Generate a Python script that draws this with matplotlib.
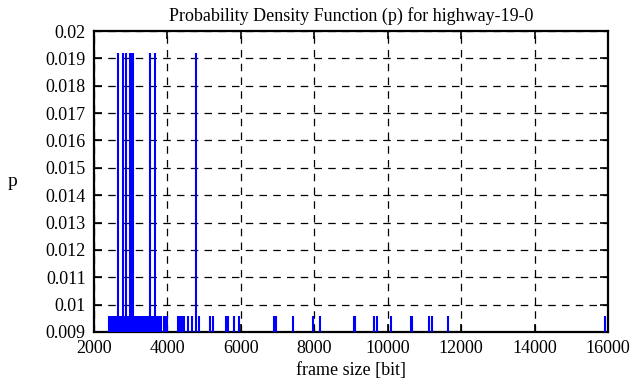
import matplotlib
matplotlib.use("Agg")
import matplotlib.pyplot as plt
from matplotlib.ticker import FixedLocator

# Frame sizes (bit) occurring once
sizes_single = [2415, 2470, 2510, 2550, 2590, 2630, 2700, 2730, 2820, 2850, 2920,
                2950, 3030, 3100, 3140, 3180, 3220, 3260, 3300, 3340, 3380, 3420,
                3460, 3550, 3590, 3630, 3700, 3740, 3790, 3830, 3900, 3930, 3990,
                4290, 4330, 4380, 4420, 4460, 4560, 4670, 4860, 5150, 5240, 5590,
                5640, 5820, 5950, 6900, 6950, 7410, 7960, 8150, 9080, 9110, 9620,
                9720, 10080, 10630, 10660, 11120, 11200, 11650, 15920]
p_single = [0.0096] * len(sizes_single)

# Frame sizes (bit) occurring twice
sizes_double = [2667, 2790, 2872, 2967, 3010, 3062, 3512, 3662, 4779]
p_double = [0.0192] * len(sizes_double)

x_ticks = [2000, 4000, 6000, 8000, 10000, 12000, 14000, 16000]
y_ticks = [0.009, 0.010, 0.011, 0.012, 0.013, 0.014, 0.015, 0.016, 0.017, 0.018, 0.019, 0.020]
y_tick_labels = ["0.009", "0.01", "0.011", "0.012", "0.013", "0.014", "0.015",
                 "0.016", "0.017", "0.018", "0.019", "0.02"]

plt.rcParams['font.family'] = ['Liberation Serif', 'DejaVu Serif']

fig = plt.figure(figsize=(6.36, 3.87), dpi=100)
ax = fig.add_axes([94/636, 1-332/387, (608-94)/636, (332-31)/387])

sizes = sizes_single + sizes_double
ps = p_single + p_double
ax.vlines(sizes, 0, ps, colors='#0000ff', linewidth=1.5, zorder=3)

ax.set_xlim(2000, 16000)
ax.set_ylim(0.009, 0.02)
ax.xaxis.set_major_locator(FixedLocator(x_ticks))
ax.set_xticklabels([str(t) for t in x_ticks])
ax.yaxis.set_major_locator(FixedLocator(y_ticks))
ax.set_yticklabels(y_tick_labels)
ax.grid(True, color='black', linestyle=(0, (6, 5)), linewidth=0.9)
ax.tick_params(direction='in', top=True, right=True, length=6, width=1.2,
               labelsize=13, pad=6, colors='black')
for s in ax.spines.values():
    s.set_linewidth(1.6)

ax.set_title("Probability Density Function (p) for highway-19-0", fontsize=13, pad=7)
ax.set_xlabel("frame size [bit]", fontsize=13, labelpad=3)
ax.set_ylabel("p", fontsize=14, rotation=0, labelpad=24, va='center')

fig.savefig("out.png", dpi=100)
